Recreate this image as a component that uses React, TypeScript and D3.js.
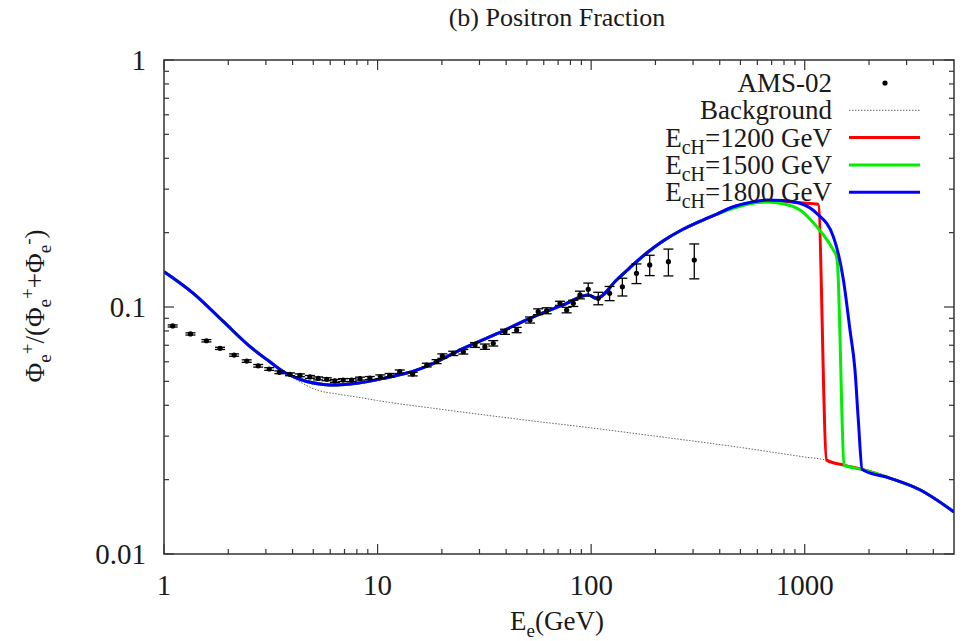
import React from "react";
import * as d3 from "d3";

// AMS-02 positron fraction measurements
const amsEnergy = [1.098, 1.33, 1.58, 1.83, 2.13, 2.44, 2.76, 3.11, 3.47, 3.89, 4.33, 4.82, 5.27, 5.78, 6.31, 6.9, 7.56, 8.27, 9.2, 10.3, 11.4, 12.7, 14.6, 17.0, 18.9, 20.1, 22.6, 25.2, 28.6, 31.8, 34.8, 39.5, 44.8, 51.7, 56.5, 61.9, 71.5, 76.8, 82.5, 88.6, 96.9, 108, 122, 140, 163, 188, 230, 304];
const amsFraction = [0.0838, 0.0778, 0.073, 0.068, 0.0639, 0.0604, 0.0578, 0.0561, 0.0544, 0.0534, 0.0529, 0.0521, 0.0514, 0.051, 0.0502, 0.0506, 0.0506, 0.0513, 0.0516, 0.0522, 0.0529, 0.0547, 0.0535, 0.0582, 0.0601, 0.0633, 0.0649, 0.0659, 0.0702, 0.0691, 0.0713, 0.0794, 0.0807, 0.0886, 0.0957, 0.0966, 0.1035, 0.0972, 0.1035, 0.1119, 0.118, 0.1084, 0.1136, 0.1208, 0.1369, 0.148, 0.1526, 0.155];
const amsError = [0.0008, 0.0008, 0.0008, 0.0007, 0.0007, 0.0007, 0.0007, 0.0007, 0.0007, 0.0007, 0.0007, 0.0007, 0.0007, 0.0007, 0.0007, 0.0007, 0.0007, 0.0007, 0.0007, 0.0009, 0.0009, 0.0009, 0.0009, 0.001, 0.0011, 0.0013, 0.0013, 0.0014, 0.0016, 0.0017, 0.0018, 0.0019, 0.002, 0.0025, 0.0026, 0.0027, 0.002, 0.0025, 0.003, 0.004, 0.007, 0.0063, 0.0075, 0.01, 0.0125, 0.014, 0.019, 0.025];

// Background positron fraction
const bgEnergy = [1, 1.372, 1.9, 2.53, 3.13, 3.62, 4.2, 5.2, 6.4, 8, 10, 20, 50, 100, 200, 500, 1000, 1266, 1526, 1858, 2500, 3460, 5000];
const bgFraction = [0.139, 0.1136, 0.0872, 0.0691, 0.06, 0.0547, 0.0505, 0.0461, 0.0445, 0.0432, 0.0418, 0.0385, 0.0348, 0.0324, 0.03, 0.027, 0.0247, 0.024, 0.0229, 0.022, 0.0203, 0.0182, 0.0148];

// Background + signal, common part below the cutoff region
const sharedEnergy = [1, 1.372, 1.9, 2.53, 3.13, 3.62, 4.03, 4.66, 5.57, 6.43, 7.98, 10.6, 15.2, 17.5, 25.2, 36, 51.7, 74, 96.9, 106, 131.5, 152, 182, 217, 260, 323, 388];
const sharedFraction = [0.139, 0.1136, 0.0872, 0.0691, 0.06, 0.0547, 0.0522, 0.0499, 0.0486, 0.0483, 0.0491, 0.0514, 0.0555, 0.0582, 0.068, 0.0778, 0.09, 0.102, 0.1119, 0.1084, 0.1286, 0.1445, 0.1655, 0.185, 0.203, 0.222, 0.2378];

const tailAfterCut = [2500, 3460, 5000];
const tailAfterCutFraction = [0.0203, 0.0182, 0.0148];

const e1200Energy = [...sharedEnergy, 463, 554, 663, 800, 950, 1156, 1266, 1526, 1858, ...tailAfterCut];
const e1200Fraction = [...sharedFraction, 0.2545, 0.264, 0.27, 0.268, 0.264, 0.2607, 0.024, 0.0229, 0.022, ...tailAfterCutFraction];

const e1500Energy = [...sharedEnergy, 463, 554, 663, 791, 950, 1138, 1362, 1410, 1430, 1463, 1489, 1526, 1858, ...tailAfterCut];
const e1500Fraction = [...sharedFraction, 0.251, 0.2615, 0.266, 0.262, 0.247, 0.2115, 0.17, 0.16, 0.141, 0.0758, 0.0407, 0.0229, 0.022, ...tailAfterCutFraction];

const e1800Energy = [...sharedEnergy, 463, 554, 663, 791, 950, 1138, 1362, 1518, 1629, 1719, 1782, 1858, ...tailAfterCut];
const e1800Fraction = [...sharedFraction, 0.2547, 0.265, 0.271, 0.2697, 0.263, 0.2394, 0.1926, 0.1286, 0.0807, 0.0556, 0.0349, 0.022, ...tailAfterCutFraction];

const xMajorTicks = [1, 10, 100, 1000];
const yMajorTicks = [0.01, 0.1, 1];
const xTickLabels = ["1", "10", "100", "1000"];
const yTickLabels = ["0.01", "0.1", "1"];

const modelLabels = ["1200", "1500", "1800"];
const modelColors = ["#ff0000", "#00ee00", "#0000ff"];

const W = 974;
const H = 641;
const left = 164;
const right = 954;
const top = 60;
const bottom = 554;
const FONT = "Times New Roman";

export default function App() {
  const x = d3.scaleLog().domain([1, 5000]).range([left, right]);
  const y = d3.scaleLog().domain([0.01, 1]).range([bottom, top]);

  const line = d3
    .line<[number, number]>()
    .x((d) => x(d[0]))
    .y((d) => y(d[1]))
    .curve(d3.curveMonotoneX);

  const zip = (a: number[], b: number[]) => a.map((v, i) => [v, b[i]] as [number, number]);

  const xMinor: number[] = [];
  for (let p = 1; p <= 1000; p *= 10) {
    for (let k = 2; k <= 9; k++) {
      const v = k * p;
      if (v < 5000) xMinor.push(v);
    }
  }
  const yMinor: number[] = [];
  for (const p of [0.01, 0.1]) {
    for (let k = 2; k <= 9; k++) yMinor.push(k * p);
  }

  const models = [
    zip(e1200Energy, e1200Fraction),
    zip(e1500Energy, e1500Fraction),
    zip(e1800Energy, e1800Fraction),
  ];

  const legendRowY = (i: number) => 83 + i * 27.3;
  const legendTextX = 832;
  const legendLineX0 = 849;
  const legendLineX1 = 920;
  const axisColor = "#333";
  const textColor = "#1a1a1a";

  return (
    <svg width={W} height={H} style={{ position: "absolute", left: 0, top: 0, background: "#fff" }}>
      <defs>
        <clipPath id="plotClip">
          <rect x={left} y={top} width={right - left} height={bottom - top} />
        </clipPath>
      </defs>
      <rect x={0} y={0} width={W} height={H} fill="#fff" />

      {/* title */}
      <text x={557} y={26} textAnchor="middle" fontSize={26} fontFamily={FONT} fill={textColor}>
        (b) Positron Fraction
      </text>

      {/* ticks */}
      <g stroke={axisColor} strokeWidth={1.2}>
        {xMajorTicks.map((t) => (
          <g key={"xm" + t}>
            <line x1={x(t)} x2={x(t)} y1={bottom} y2={bottom - 10} />
            <line x1={x(t)} x2={x(t)} y1={top} y2={top + 10} />
          </g>
        ))}
        {xMinor.map((t) => (
          <g key={"xn" + t}>
            <line x1={x(t)} x2={x(t)} y1={bottom} y2={bottom - 5} />
            <line x1={x(t)} x2={x(t)} y1={top} y2={top + 5} />
          </g>
        ))}
        {yMajorTicks.map((t) => (
          <g key={"ym" + t}>
            <line x1={left} x2={left + 10} y1={y(t)} y2={y(t)} />
            <line x1={right} x2={right - 10} y1={y(t)} y2={y(t)} />
          </g>
        ))}
        {yMinor.map((t) => (
          <g key={"yn" + t}>
            <line x1={left} x2={left + 5} y1={y(t)} y2={y(t)} />
            <line x1={right} x2={right - 5} y1={y(t)} y2={y(t)} />
          </g>
        ))}
      </g>

      {/* tick labels */}
      {xMajorTicks.map((t, i) => (
        <text key={"xl" + t} x={x(t)} y={595} textAnchor="middle" fontSize={29} fontFamily={FONT} fill={textColor}>
          {xTickLabels[i]}
        </text>
      ))}
      {yMajorTicks.map((t, i) => (
        <text key={"yl" + t} x={146} y={y(t) + 10} textAnchor="end" fontSize={29} fontFamily={FONT} fill={textColor}>
          {yTickLabels[i]}
        </text>
      ))}

      {/* axis titles */}
      <text x={557} y={630} textAnchor="middle" fontSize={27} fontFamily={FONT} fill={textColor}>
        E
        <tspan fontSize={19} dy={7}>e</tspan>
        <tspan dy={-7}>(GeV)</tspan>
      </text>
      <g transform="translate(44,306) rotate(-90)">
        <text x={0} y={0} textAnchor="middle" fontSize={27} fontFamily={FONT} fill={textColor}>
          Φ<tspan fontSize={19} dy={7}>e</tspan>
          <tspan fontSize={19} dy={-17}>+</tspan>
          <tspan dy={10}>/(Φ</tspan>
          <tspan fontSize={19} dy={7}>e</tspan>
          <tspan fontSize={19} dy={-17}>+</tspan>
          <tspan dy={10}>+Φ</tspan>
          <tspan fontSize={19} dy={7}>e</tspan>
          <tspan fontSize={19} dy={-17}>-</tspan>
          <tspan dy={10}>)</tspan>
        </text>
      </g>

      {/* curves */}
      <g clipPath="url(#plotClip)" fill="none">
        <path
          d={line(zip(bgEnergy, bgFraction)) || ""}
          stroke="#666"
          strokeWidth={1}
          strokeDasharray="1.5,1.5"
        />
        {models.map((m, i) => (
          <path key={"model" + i} d={line(m) || ""} stroke={modelColors[i]} strokeWidth={3} strokeLinejoin="round" />
        ))}
      </g>

      {/* AMS-02 data */}
      <g stroke="#000" strokeWidth={1.3}>
        {amsEnergy.map((e, i) => {
          const cx = x(e);
          const v = amsFraction[i];
          const err = amsError[i];
          const y0 = y(v + err);
          const y1 = y(v - err);
          return (
            <g key={"ams" + i}>
              <line x1={cx} x2={cx} y1={y0} y2={y1} />
              <line x1={cx - 5} x2={cx + 5} y1={y0} y2={y0} />
              <line x1={cx - 5} x2={cx + 5} y1={y1} y2={y1} />
              <circle cx={cx} cy={y(v)} r={2.6} fill="#000" stroke="none" />
            </g>
          );
        })}
      </g>

      {/* legend */}
      <text x={legendTextX} y={legendRowY(0) + 9} textAnchor="end" fontSize={27} fontFamily={FONT} fill={textColor}>
        AMS-02
      </text>
      <circle cx={885} cy={legendRowY(0)} r={2.6} fill="#000" />
      <text x={legendTextX} y={legendRowY(1) + 9} textAnchor="end" fontSize={27} fontFamily={FONT} fill={textColor}>
        Background
      </text>
      <line
        x1={legendLineX0}
        x2={legendLineX1}
        y1={legendRowY(1)}
        y2={legendRowY(1)}
        stroke="#666"
        strokeWidth={1}
        strokeDasharray="1.5,1.5"
      />
      {modelLabels.map((lab, i) => (
        <g key={"leg" + lab}>
          <text x={legendTextX} y={legendRowY(i + 2) + 9} textAnchor="end" fontSize={27} fontFamily={FONT} fill={textColor}>
            E<tspan fontSize={20} dy={7}>cH</tspan>
            <tspan dy={-7}>={lab} GeV</tspan>
          </text>
          <line
            x1={legendLineX0}
            x2={legendLineX1}
            y1={legendRowY(i + 2)}
            y2={legendRowY(i + 2)}
            stroke={modelColors[i]}
            strokeWidth={3}
          />
        </g>
      ))}

      {/* frame */}
      <rect x={left} y={top} width={right - left} height={bottom - top} fill="none" stroke={axisColor} strokeWidth={1.5} />
    </svg>
  );
}
